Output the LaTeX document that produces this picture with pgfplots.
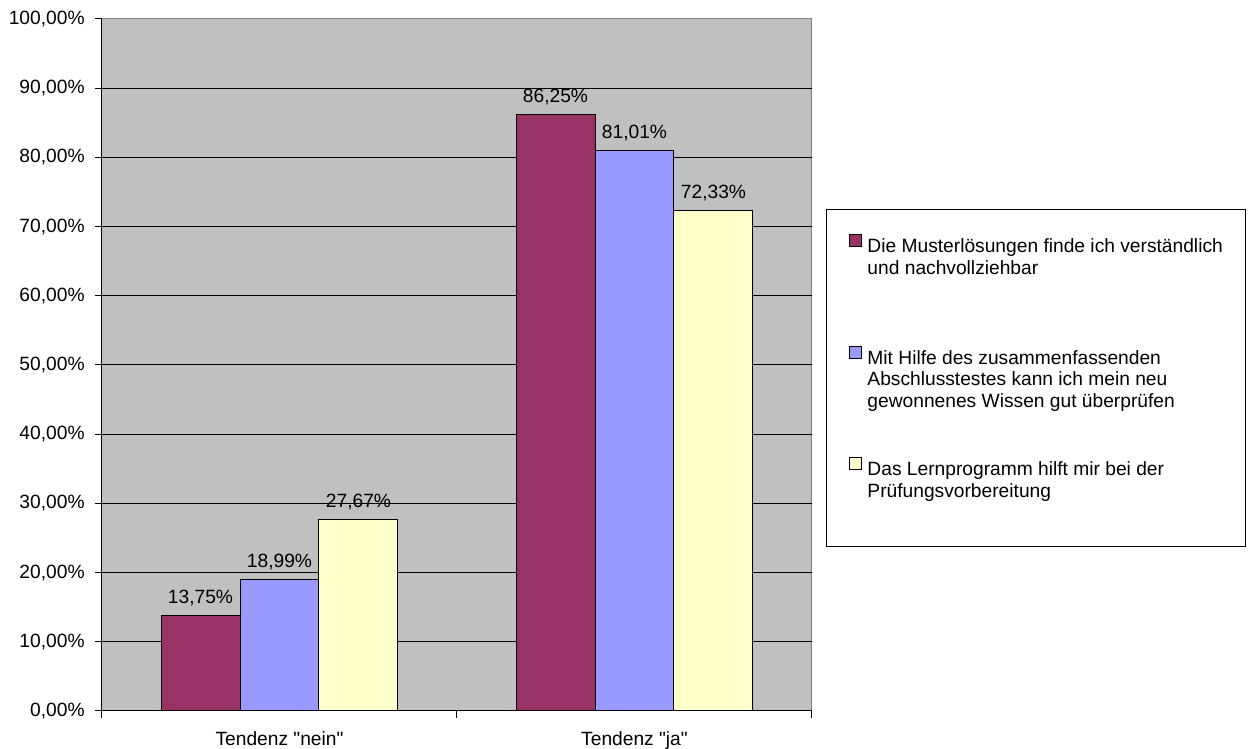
\documentclass[border=0pt]{standalone}
\usepackage{fontspec}
\setmainfont{Liberation Sans}[Ligatures=TeXOff]
\usepackage{pgfplots}
\pgfplotsset{compat=1.18}

\definecolor{plotbg}{HTML}{C0C0C0}
\definecolor{borderg}{HTML}{808080}
\definecolor{serA}{HTML}{993366}
\definecolor{serB}{HTML}{9999FF}
\definecolor{serC}{HTML}{FFFFCC}

% legend: one row per text line; continuation and spacer rows carry no image
\newcommand{\legline}[1]{\addlegendimage{empty legend}\addlegendentry{\strut #1}}

\begin{document}
\fontsize{9.6}{11.1}\selectfont
\begin{tikzpicture}
\useasboundingbox (-51pt,-19pt) rectangle (573.5pt,355.5pt);
\begin{axis}[
  scale only axis,
  width=355pt, height=346pt,
  /pgf/number format/assume math mode=true,
  axis background/.style={fill=plotbg, draw=borderg, line width=0.5pt},
  axis lines=left,
  axis line style={-, black, line width=0.5pt},
  ymin=0, ymax=100,
  xmin=-0.5, xmax=1.5,
  ytick={0,10,...,100},
  yticklabel={\pgfmathprintnumber[fixed,fixed zerofill,precision=2,use comma]{\tick}\%},
  yticklabel style={anchor=east, xshift=-1.8pt},
  extra y ticks={10,20,...,90},
  extra y tick labels={},
  extra y tick style={grid=major, tick style={draw=none}},
  grid style={black, line width=0.5pt},
  xtick={0,1},
  xticklabels={Tendenz "nein", Tendenz "ja"},
  major x tick style={draw=none},
  xticklabel style={anchor=base, inner sep=0pt, yshift=-14pt},
  minor xtick={-0.5,0.5,1.5},
  minor tick length=3.5pt,
  major tick length=3.5pt,
  tick align=outside,
  tick style={black, line width=0.5pt},
  ybar,
  bar width=0.2225,
  nodes near coords={\pgfmathprintnumber[fixed,fixed zerofill,precision=2,use comma]{\pgfplotspointmeta}\%},
  every node near coord/.append style={anchor=base, inner sep=0pt, yshift=6pt, black},
  legend style={
    at={(axis description cs:1.0197,0.7254)}, anchor=north west,
    draw=black, line width=0.5pt, fill=white,
    inner xsep=11.5pt, inner ysep=12.3pt,
    row sep=1.6pt, column sep=2.5pt,
    nodes={inner sep=0pt},
  },
  legend cell align=left,
  legend image code/.code={\draw[#1, line width=0.5pt] (0pt,0pt) rectangle (6pt,6pt);},
]
\addplot[forget plot, bar shift=-0.2225, draw=black, line width=0.5pt, fill=serA] coordinates {(0,13.75) (1,86.25)};
\addplot[forget plot, bar shift=0, draw=black, line width=0.5pt, fill=serB] coordinates {(0,18.99) (1,81.01)};
\addplot[forget plot, bar shift=0.2225, draw=black, line width=0.5pt, fill=serC] coordinates {(0,27.67) (1,72.33)};

\addlegendimage{draw=black, fill=serA}
\addlegendentry{\strut Die Musterlösungen finde ich verständlich}
\legline{und nachvollziehbar}
\legline{}
\legline{}
\legline{}
\addlegendimage{draw=black, fill=serB}
\addlegendentry{\strut Mit Hilfe des zusammenfassenden}
\legline{Abschlusstestes kann ich mein neu}
\legline{gewonnenes Wissen gut überprüfen}
\legline{}
\legline{}
\addlegendimage{draw=black, fill=serC}
\addlegendentry{\strut Das Lernprogramm hilft mir bei der}
\legline{Prüfungsvorbereitung}
\legline{}
\end{axis}
\end{tikzpicture}
\end{document}
